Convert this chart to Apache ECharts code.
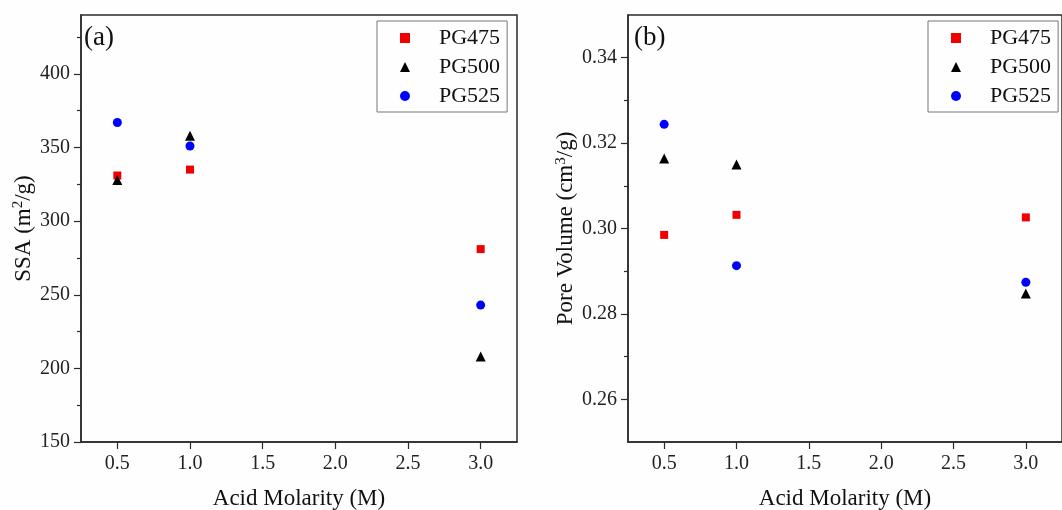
<!DOCTYPE html>
<html>
<head>
<meta charset="utf-8">
<script src="https://cdn.jsdelivr.net/npm/echarts@6/dist/echarts.min.js"></script>
<style>
html,body{margin:0;padding:0;background:#fff;}
#chart{width:1062px;height:510px;}
</style>
</head>
<body>
<div id="chart"></div>
<script>
// ---- data ----
const molarity = [0.5, 1.0, 3.0];
const seriesNames = ['PG475', 'PG500', 'PG525'];
const ssaPG475 = [331, 335, 281];
const ssaPG500 = [328, 358, 208];
const ssaPG525 = [367, 351, 243];
const pvPG475 = [0.2985, 0.3032, 0.3026];
const pvPG500 = [0.3164, 0.3150, 0.2848];
const pvPG525 = [0.3244, 0.2913, 0.2874];
const xTicks = [0.5, 1.0, 1.5, 2.0, 2.5, 3.0];
const ssaTicks = [150, 200, 250, 300, 350, 400];
const ssaMinorTicks = [175, 225, 275, 325, 375, 425];
const pvTicks = [0.26, 0.28, 0.30, 0.32, 0.34];
const pvMinorTicks = [0.27, 0.29, 0.31, 0.33];

// ---- styling ----
const FONT = '"Liberation Serif", "Times New Roman", serif';
const AXC = '#2b2b2b';
const symbols = ['rect', 'triangle', 'circle'];
const symbolSizes = [8, 10, 9];
const colors = ['#f00000', '#000000', '#0000ff'];

function pairs(ys) { return molarity.map((x, i) => [x, ys[i]]); }

function xAxis(gridIndex) {
  return {
    type: 'value', gridIndex, min: 0.25, max: 3.25,
    name: 'Acid Molarity (M)', nameLocation: 'middle', nameGap: 45,
    nameTextStyle: { fontFamily: FONT, fontSize: 23, color: '#111' },
    axisLine: { show: true, onZero: false, lineStyle: { color: AXC, width: 1.5 } },
    axisTick: { show: true, inside: false, length: 7, customValues: xTicks, lineStyle: { color: AXC, width: 1.2 } },
    axisLabel: { customValues: xTicks, margin: 12, fontFamily: FONT, fontSize: 20, color: '#222', formatter: v => v.toFixed(1) },
    splitLine: { show: false }
  };
}
function yMajor(gridIndex, min, max, ticks, fmt, name) {
  return {
    type: 'value', gridIndex, min, max, position: 'left',
    name, nameLocation: 'middle', nameGap: 45,
    nameTextStyle: {
      fontFamily: FONT, fontSize: 23, color: '#111',
      rich: {
        n: { fontFamily: FONT, fontSize: 23, color: '#111', lineHeight: 25 },
        s: { fontFamily: FONT, fontSize: 15, color: '#111', lineHeight: 25, verticalAlign: 'top', padding: [0, 0, 10, 0] }
      }
    },
    axisLine: { show: true, onZero: false, lineStyle: { color: AXC, width: 1.5 } },
    axisTick: { show: true, inside: false, length: 7, customValues: ticks, lineStyle: { color: AXC, width: 1.2 } },
    axisLabel: { customValues: ticks, margin: 11, fontFamily: FONT, fontSize: 20, color: '#222', formatter: fmt },
    splitLine: { show: false }
  };
}
function yMinor(gridIndex, min, max, ticks) {
  return {
    type: 'value', gridIndex, min, max, position: 'left',
    axisLine: { show: false },
    axisTick: { show: true, inside: false, length: 4, customValues: ticks, lineStyle: { color: AXC, width: 1.2 } },
    axisLabel: { show: false },
    splitLine: { show: false }
  };
}
function legend(left) {
  return {
    left, top: 21, orient: 'vertical',
    data: seriesNames,
    itemWidth: 10, itemHeight: 10, itemGap: 7,
    padding: [6, 7, 5, 23],
    borderColor: '#777', borderWidth: 1,
    textStyle: { fontFamily: FONT, fontSize: 22, color: '#111', lineHeight: 22, padding: [0, 0, 0, 24] },
    selectedMode: false
  };
}

const ssaData = [ssaPG475, ssaPG500, ssaPG525];
const pvData = [pvPG475, pvPG500, pvPG525];
const series = [];
seriesNames.forEach((n, i) => {
  series.push({ name: n, type: 'scatter', xAxisIndex: 0, yAxisIndex: 0, symbol: symbols[i], symbolSize: symbolSizes[i],
    itemStyle: { color: colors[i], opacity: 1 }, data: pairs(ssaData[i]) });
});
seriesNames.forEach((n, i) => {
  series.push({ name: n, type: 'scatter', xAxisIndex: 1, yAxisIndex: 2, symbol: symbols[i], symbolSize: symbolSizes[i],
    itemStyle: { color: colors[i], opacity: 1 }, data: pairs(pvData[i]) });
});

const chart = echarts.init(document.getElementById('chart'), null, { renderer: 'canvas' });
chart.setOption({
  animation: false,
  backgroundColor: '#fefefe',
  title: [
    { text: '(a)', left: 84, top: 24, padding: 0, textStyle: { fontFamily: FONT, fontSize: 27, fontWeight: 'normal', color: '#111' } },
    { text: '(b)', left: 634, top: 24, padding: 0, textStyle: { fontFamily: FONT, fontSize: 27, fontWeight: 'normal', color: '#111' } }
  ],
  grid: [
    { left: 81, top: 15, width: 436, height: 427, containLabel: false, outerBoundsMode: 'none', show: true, borderColor: AXC, borderWidth: 1.5, backgroundColor: 'transparent' },
    { left: 628, top: 15, width: 434, height: 427, containLabel: false, outerBoundsMode: 'none', show: true, borderColor: AXC, borderWidth: 1.5, backgroundColor: 'transparent' }
  ],
  legend: [legend(377), legend(928)],
  xAxis: [xAxis(0), xAxis(1)],
  yAxis: [
    yMajor(0, 150, 440, ssaTicks, v => String(v), '{n|SSA (m}{s|2}{n|/g)}'),
    yMinor(0, 150, 440, ssaMinorTicks),
    yMajor(1, 0.25, 0.35, pvTicks, v => v.toFixed(2), '{n|Pore Volume (cm}{s|3}{n|/g)}'),
    yMinor(1, 0.25, 0.35, pvMinorTicks)
  ],
  series
});
</script>
</body>
</html>
